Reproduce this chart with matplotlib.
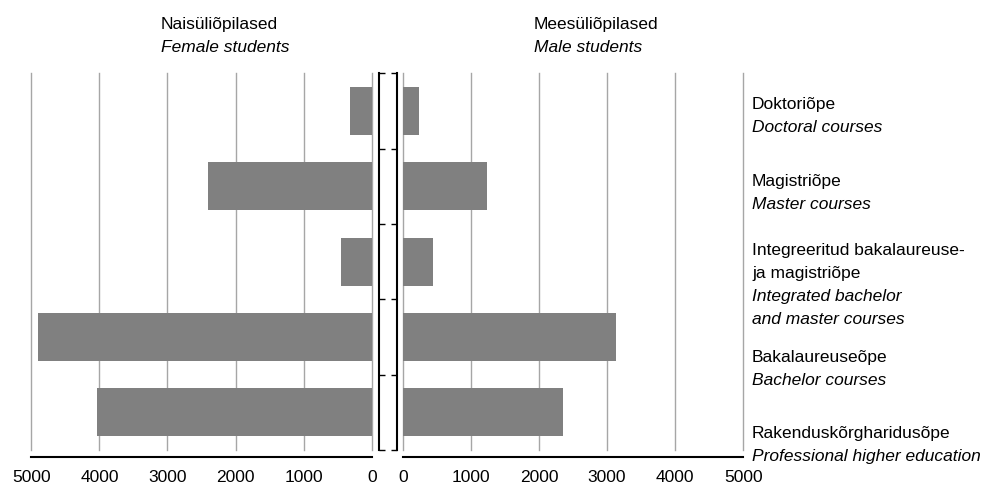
import numpy as np
import matplotlib
matplotlib.use('Agg')
import matplotlib.pyplot as plt
from matplotlib.ticker import FixedLocator

plt.rcParams['font.family'] = ['Liberation Sans', 'DejaVu Sans']

# Andmed (ülalt alla)
kategooriad_et = [['Doktoriõpe'], ['Magistriõpe'],
                  ['Integreeritud bakalaureuse-', 'ja magistriõpe'],
                  ['Bakalaureuseõpe'], ['Rakenduskõrgharidusõpe']]
kategooriad_en = [['Doctoral courses'], ['Master courses'],
                  ['Integrated bachelor', 'and master courses'],
                  ['Bachelor courses'], ['Professional higher education']]
naised = [318, 2400, 450, 4897, 4035]
mehed = [240, 1238, 440, 3132, 2354]
ticks = [0, 1000, 2000, 3000, 4000, 5000]

W, H = 989, 486
fig = plt.figure(figsize=(W / 100, H / 100), dpi=100)

def fx(px):
    return px / W

def fy(py):
    return 1 - py / H

PT = 0.72  # px -> pt
top, bot = 73.3, 450
ax_l = fig.add_axes([fx(31.3), fy(bot), fx(371.7 - 31.3), fy(top) - fy(bot)])
ax_r = fig.add_axes([fx(402.7), fy(bot), fx(743.3 - 402.7), fy(top) - fy(bot)])

y = np.arange(len(naised))
bar_col = '#808080'
ax_l.barh(y, naised, height=0.64, color=bar_col, zorder=2)
ax_r.barh(y, mehed, height=0.64, color=bar_col, zorder=2)

fs = 12.5
for ax in (ax_l, ax_r):
    ax.set_ylim(len(naised) - 0.5, -0.5)
    ax.set_xticks(ticks)
    ax.set_xticklabels([str(t) for t in ticks])
    ax.xaxis.set_minor_locator(FixedLocator([0, 5000]))
    ax.tick_params(axis='x', which='major', length=0, pad=9, labelsize=fs)
    ax.tick_params(axis='x', which='minor', length=5 * PT, width=1.5, direction='out')
    # ruudustik (ka servadel nähtav)
    for t in ticks:
        ax.axvline(t, color='#a6a6a6', lw=1, zorder=0, clip_on=False)
    ax.spines['top'].set_visible(False)
    ax.spines['bottom'].set_position(('outward', 7 * PT))
    ax.spines['bottom'].set_linewidth(1.5)
    ax.set_yticks(np.arange(-0.5, len(naised), 1.0))
    ax.set_yticklabels([])
    ax.tick_params(axis='y', length=6 * PT, width=1, direction='out')

ax_l.set_xlim(5000, 0)
ax_r.set_xlim(0, 5000)

ax_l.spines['left'].set_visible(False)
ax_l.spines['right'].set_position(('outward', 7 * PT))
ax_l.spines['right'].set_linewidth(1.5)
ax_l.yaxis.tick_right()

ax_r.spines['right'].set_visible(False)
ax_r.spines['left'].set_position(('outward', 6 * PT))
ax_r.spines['left'].set_linewidth(1.5)

# pealkirjad
fig.text(fx(161), fy(24), 'Naisüliõpilased', fontsize=fs, va='center')
fig.text(fx(161), fy(47), 'Female students', fontsize=fs, va='center', style='italic')
fig.text(fx(534), fy(24), 'Meesüliõpilased', fontsize=fs, va='center')
fig.text(fx(534), fy(47), 'Male students', fontsize=fs, va='center', style='italic')

# kategooriate sildid paremal
alg_y = [104, 181, 250, 357, 433]
samm = 23.2
for i in range(len(kategooriad_et)):
    yy = alg_y[i]
    for rida in kategooriad_et[i]:
        fig.text(fx(752), fy(yy), rida, fontsize=fs, va='center')
        yy += samm
    for rida in kategooriad_en[i]:
        fig.text(fx(752), fy(yy), rida, fontsize=fs, va='center', style='italic')
        yy += samm

fig.savefig('out.png', dpi=100)
